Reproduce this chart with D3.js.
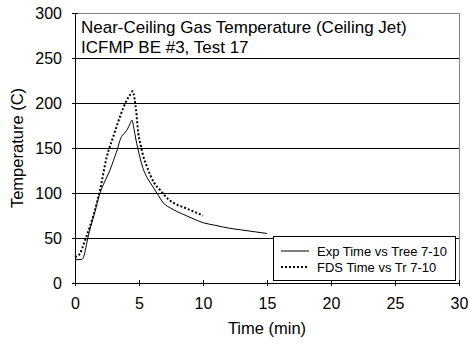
<!DOCTYPE html>
<html>
<head>
<meta charset="utf-8">
<script src="https://cdn.jsdelivr.net/npm/d3@7"></script>
<style>
  html, body { margin: 0; padding: 0; background: #fff; }
  svg { display: block; font-family: "Liberation Sans", Arial, sans-serif; }
  text { font-weight: normal; }
</style>
</head>
<body>
<svg id="chart" width="468" height="347"></svg>
<script>
// ---- Data ----
const expTime = [0, 0.5, 0.65, 0.8, 1.0, 1.5, 1.95, 2.3, 2.75, 3.0, 3.3, 3.5, 3.7, 3.9, 4.1, 4.3, 4.45, 4.6, 4.75, 4.9, 5.1, 5.35, 5.6, 5.9, 6.4, 6.9, 7.5, 8.5, 9.3, 10.0, 11.0, 12.0, 13.0, 14.0, 15.0];
const expTemp = [26, 26, 28, 36, 50, 76, 100, 112, 126, 136, 148, 158, 164, 167, 171, 177, 181, 172, 160, 150, 138, 126, 118, 111, 100, 89, 83, 76, 71, 67, 64, 61, 59, 57, 55];
const fdsTime = [0, 0.2, 0.4, 0.6, 0.8, 1.17, 1.56, 1.95, 2.48, 3.0, 3.52, 4.04, 4.3, 4.51, 4.65, 4.77, 4.95, 5.15, 5.35, 5.6, 5.88, 6.2, 6.66, 7.3, 7.95, 8.5, 9.0, 9.5, 10.0];
const fdsTemp = [29, 30, 33, 40, 48, 63, 81, 103, 140, 163, 185, 203, 209, 213, 205, 192, 166, 152, 140, 130, 120, 111, 103, 93, 87, 84, 81, 78, 75];
const xTicks = [0, 5, 10, 15, 20, 25, 30];
const yTicks = [0, 50, 100, 150, 200, 250, 300];
const seriesNames = ["Exp Time vs Tree 7-10", "FDS Time vs Tr 7-10"];
const titleLines = ["Near-Ceiling Gas Temperature (Ceiling Jet)", "ICFMP BE #3, Test 17"];

// ---- Layout ----
const L = 75, R = 459, T = 13, B = 283;
const FONT = "Liberation Sans, Arial, sans-serif";
const svg = d3.select("#chart");
const x = d3.scaleLinear().domain([0, 30]).range([L, R]);
const y = d3.scaleLinear().domain([0, 300]).range([B, T]);

// gridlines
svg.append("g").selectAll("line").data(yTicks.filter(v => v > 0 && v < 300)).join("line")
  .attr("x1", L).attr("x2", R).attr("y1", d => y(d)).attr("y2", d => y(d))
  .attr("stroke", "#000").attr("stroke-width", 1).attr("shape-rendering", "crispEdges");

// plot border
svg.append("rect").attr("x", L).attr("y", T).attr("width", R - L).attr("height", B - T)
  .attr("fill", "none").attr("stroke", "#808080").attr("shape-rendering", "crispEdges");

// axes
const fs = 16;
const xAxis = svg.append("g").attr("transform", `translate(0,${B})`)
  .call(d3.axisBottom(x).tickValues(xTicks).tickSize(3).tickPadding(12).tickFormat(d3.format("d")));
const yAxis = svg.append("g").attr("transform", `translate(${L},0)`)
  .call(d3.axisLeft(y).tickValues(yTicks).tickSize(3).tickPadding(10).tickFormat(d3.format("d")));
[xAxis, yAxis].forEach(g => {
  g.attr("font-family", FONT).attr("font-size", fs);
  g.select(".domain").attr("stroke", "#000").attr("shape-rendering", "crispEdges");
  g.selectAll(".tick text").attr("fill", "#000");
  g.selectAll(".tick line").attr("stroke", "#000").attr("shape-rendering", "crispEdges");
});
xAxis.selectAll(".tick line").attr("y1", -3).attr("y2", 3);
yAxis.selectAll(".tick line").attr("x1", -3).attr("x2", 3);

// axis titles
svg.append("text").attr("x", (L + R) / 2).attr("y", 334).attr("text-anchor", "middle")
  .attr("font-family", FONT).attr("font-size", 16.5).text("Time (min)");
svg.append("text").attr("transform", `translate(23,${(T + B) / 2}) rotate(-90)`).attr("text-anchor", "middle")
  .attr("font-family", FONT).attr("font-size", 16.5).text("Temperature (C)");

// title in plot
svg.append("g").selectAll("text").data(titleLines).join("text")
  .attr("x", 81).attr("y", (d, i) => 33 + i * 20).attr("font-family", FONT).attr("font-size", 17).text(d => d);

// lines
const line = d3.line().x(d => x(d[0])).y(d => y(d[1])).curve(d3.curveMonotoneX);
svg.append("path").datum(d3.zip(expTime, expTemp)).attr("d", line)
  .attr("fill", "none").attr("stroke", "#000").attr("stroke-width", 1);
svg.append("path").datum(d3.zip(fdsTime, fdsTemp)).attr("d", line)
  .attr("fill", "none").attr("stroke", "#000").attr("stroke-width", 2).attr("stroke-dasharray", "2,2");

// legend
const lg = svg.append("g");
lg.append("rect").attr("x", 273).attr("y", 236).attr("width", 182).attr("height", 44)
  .attr("fill", "#fff").attr("stroke", "#000").attr("shape-rendering", "crispEdges");
seriesNames.forEach((name, i) => {
  const yy = 251 + i * 16;
  lg.append("line").attr("x1", 281).attr("x2", 309).attr("y1", yy).attr("y2", yy)
    .attr("stroke", "#000").attr("stroke-width", i === 0 ? 1 : 2)
    .attr("stroke-dasharray", i === 0 ? null : "2,2");
  lg.append("text").attr("x", 317).attr("y", yy + 4.5).attr("font-family", FONT).attr("font-size", 13).text(name);
});
</script>
</body>
</html>
